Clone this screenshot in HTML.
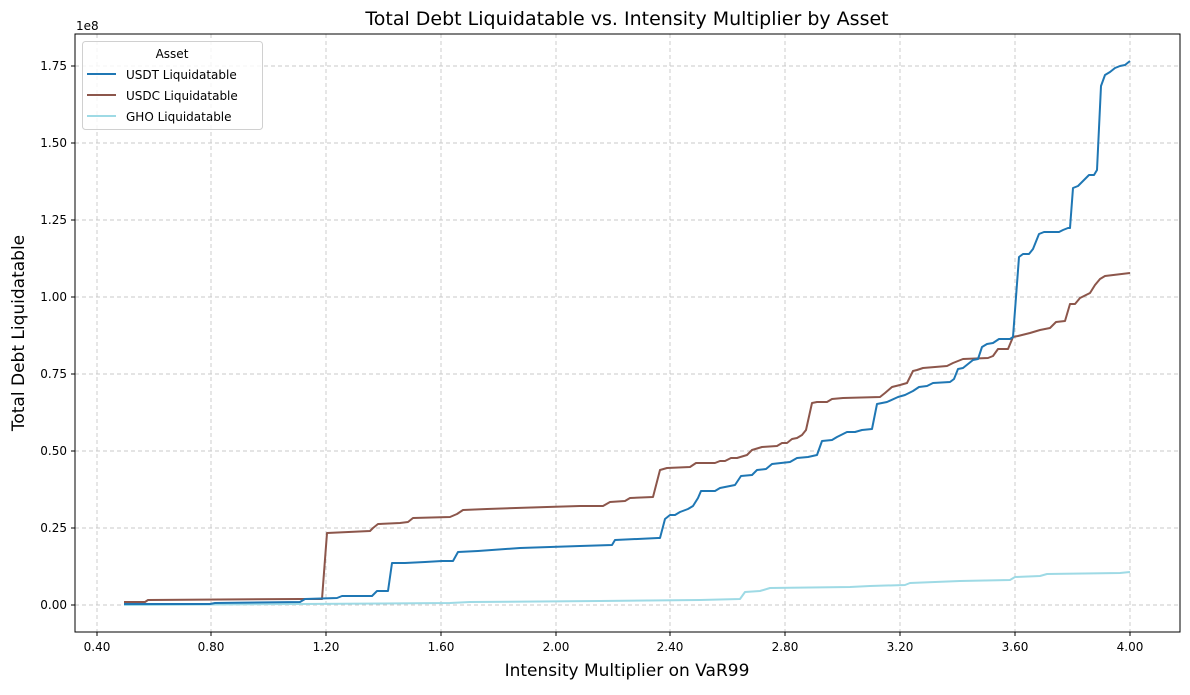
<!DOCTYPE html>
<html><head><meta charset="utf-8"><style>
body{margin:0;background:#fff;}
svg text{font-family:"DejaVu Sans","Liberation Sans",sans-serif;fill:#000;}
</style></head><body>
<svg width="1190" height="690" xmlns="http://www.w3.org/2000/svg">
<rect width="1190" height="690" fill="#fff"/>
<g stroke="#c8c8c8" stroke-dasharray="4,3" stroke-width="0.9">
<line x1="97" y1="34" x2="97" y2="632"/><line x1="211" y1="34" x2="211" y2="632"/><line x1="326" y1="34" x2="326" y2="632"/><line x1="441" y1="34" x2="441" y2="632"/><line x1="556" y1="34" x2="556" y2="632"/><line x1="670" y1="34" x2="670" y2="632"/><line x1="785" y1="34" x2="785" y2="632"/><line x1="900" y1="34" x2="900" y2="632"/><line x1="1015" y1="34" x2="1015" y2="632"/><line x1="1130" y1="34" x2="1130" y2="632"/>
<line x1="75" y1="605" x2="1180" y2="605"/><line x1="75" y1="528" x2="1180" y2="528"/><line x1="75" y1="451" x2="1180" y2="451"/><line x1="75" y1="374" x2="1180" y2="374"/><line x1="75" y1="297" x2="1180" y2="297"/><line x1="75" y1="220" x2="1180" y2="220"/><line x1="75" y1="143" x2="1180" y2="143"/><line x1="75" y1="66" x2="1180" y2="66"/>
</g>
<g fill="none" stroke-width="2" stroke-linejoin="round">
<polyline stroke="#9edae5" points="124,605 300,604 450,603 470,602 600,601 700,600 740,599 745,592 760,591 770,588 850,587 870,586 905,585 910,583 960,581 1010,580 1015,577 1040,576 1047,574 1120,573 1130,572"/>
<polyline stroke="#8c564b" points="124,602 145,602 148,600 300,599 322,599 327,533 370,531 373,528 378,524 400,523 408,522 413,518 450,517 457,514 463,510 487,509 547,507 580,506 603,506 610,502 625,501 630,498 653,497 660,470 667,468 690,467 696,463 715,463 720,461 725,461 731,458 737,458 747,455 752,450 762,447 777,446 782,443 787,443 792,439 797,438 802,435 806,430 812,403 817,402 827,402 832,399 843,398 880,397 885,393 892,387 900,385 907,383 913,371 917,370 923,368 947,366 953,363 963,359 988,358 993,356 998,349 1008,349 1013,337 1018,336 1030,333 1040,330 1050,328 1056,322 1065,321 1070,304 1075,304 1080,298 1086,295 1090,293 1095,285 1100,279 1105,276 1130,273"/>
<polyline stroke="#1f77b4" points="124,604 210,604 215,603 300,602 305,599 337,598 342,596 372,596 377,591 388,591 392,563 405,563 425,562 442,561 453,561 458,552 478,551 520,548 580,546 612,545 615,540 658,538 660,538 665,519 670,515 675,515 680,512 688,509 693,506 698,498 701,491 715,491 720,488 735,485 741,476 752,475 757,470 766,469 772,464 790,462 797,458 808,457 817,455 822,441 832,440 837,437 847,432 855,432 862,430 872,429 877,404 887,402 898,397 905,395 913,391 919,387 927,386 933,383 950,382 954,379 958,369 963,368 973,360 978,359 982,347 987,344 993,343 999,339 1010,339 1013,337 1019,257 1023,254 1029,254 1033,249 1039,234 1044,232 1059,232 1063,230 1068,228 1070,228 1073,188 1078,186 1085,179 1089,175 1094,175 1097,170 1101,86 1105,75 1110,72 1115,68 1120,66 1125,65 1130,61"/>
</g>
<rect x="75" y="34" width="1105" height="598" fill="none" stroke="#000" stroke-width="1"/>
<g stroke="#000"><line x1="97" y1="632" x2="97" y2="636"/><line x1="211" y1="632" x2="211" y2="636"/><line x1="326" y1="632" x2="326" y2="636"/><line x1="441" y1="632" x2="441" y2="636"/><line x1="556" y1="632" x2="556" y2="636"/><line x1="670" y1="632" x2="670" y2="636"/><line x1="785" y1="632" x2="785" y2="636"/><line x1="900" y1="632" x2="900" y2="636"/><line x1="1015" y1="632" x2="1015" y2="636"/><line x1="1130" y1="632" x2="1130" y2="636"/>
<line x1="71" y1="605" x2="75" y2="605"/><line x1="71" y1="528" x2="75" y2="528"/><line x1="71" y1="451" x2="75" y2="451"/><line x1="71" y1="374" x2="75" y2="374"/><line x1="71" y1="297" x2="75" y2="297"/><line x1="71" y1="220" x2="75" y2="220"/><line x1="71" y1="143" x2="75" y2="143"/><line x1="71" y1="66" x2="75" y2="66"/></g>
<g font-size="12" text-anchor="middle"><text x="97" y="651">0.40</text><text x="211" y="651">0.80</text><text x="326" y="651">1.20</text><text x="441" y="651">1.60</text><text x="556" y="651">2.00</text><text x="670" y="651">2.40</text><text x="785" y="651">2.80</text><text x="900" y="651">3.20</text><text x="1015" y="651">3.60</text><text x="1130" y="651">4.00</text></g>
<g font-size="12" text-anchor="end"><text x="67" y="609">0.00</text><text x="67" y="532">0.25</text><text x="67" y="455">0.50</text><text x="67" y="378">0.75</text><text x="67" y="301">1.00</text><text x="67" y="224">1.25</text><text x="67" y="147">1.50</text><text x="67" y="70">1.75</text></g>
<text x="76" y="30" font-size="12">1e8</text>
<text x="627" y="25" font-size="19" text-anchor="middle">Total Debt Liquidatable vs. Intensity Multiplier by Asset</text>
<text x="627" y="676" font-size="17" text-anchor="middle">Intensity Multiplier on VaR99</text>
<text transform="translate(24,333) rotate(-90)" font-size="17" text-anchor="middle">Total Debt Liquidatable</text>
<rect x="82.5" y="41.5" width="180" height="88" rx="3" fill="#fff" fill-opacity="0.8" stroke="#d0d0d0"/>
<text x="172" y="58" font-size="12" text-anchor="middle">Asset</text>
<line x1="87" y1="74" x2="116" y2="74" stroke="#1f77b4" stroke-width="2"/><text x="126" y="79" font-size="12">USDT Liquidatable</text>
<line x1="87" y1="95" x2="116" y2="95" stroke="#8c564b" stroke-width="2"/><text x="126" y="100" font-size="12">USDC Liquidatable</text>
<line x1="87" y1="116" x2="116" y2="116" stroke="#9edae5" stroke-width="2"/><text x="126" y="121" font-size="12">GHO Liquidatable</text>
</svg>
</body></html>
